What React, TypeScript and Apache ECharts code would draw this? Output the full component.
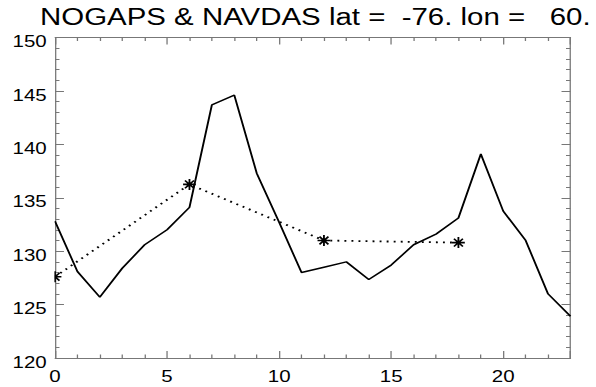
import React, { useEffect, useRef } from "react";
import * as echarts from "echarts";

const TITLE = "NOGAPS & NAVDAS lat =  -76. lon =   60.";
const hours = [0,1,2,3,4,5,6,7,8,9,10,11,12,13,14,15,16,17,18,19,20,21,22,23];
const nogaps = [132.8,128.1,125.7,128.4,130.6,132.0,134.1,143.7,144.6,137.3,132.7,128.0,128.5,129.0,127.35,128.7,130.6,131.6,133.1,139.1,133.75,131.0,126.0,123.9];
const navdasHours = [0, 6, 12, 18];
const navdas = [127.6, 136.25, 131.0, 130.8];

const ASTERISK = "path://M0,-6L0,6M-6,0L6,0M-4.2,-4.2L4.2,4.2M-4.2,4.2L4.2,-4.2";

// The reference is horizontally stretched: draw narrower, then scale in X.
const SX = 1.28;
const W = 596 / SX;
const H = 387;

export default function App() {
  const ref = useRef<HTMLDivElement>(null);
  useEffect(() => {
    document.body.style.margin = "0";
    const chart = echarts.init(ref.current!, null, { renderer: "svg" });
    const font = "Liberation Sans, Arial, Helvetica, sans-serif";
    const axisColor = "#777";
    const baseAxis = {
      type: "value" as const,
      axisLine: { show: true, onZero: false, lineStyle: { color: axisColor, width: 1 } },
      axisTick: { show: true, inside: true, length: 7, lineStyle: { color: axisColor } },
      minorTick: { show: true, splitNumber: 5, length: 3.5, lineStyle: { color: axisColor } },
      splitLine: { show: false },
    };
    const left = 55 / SX;
    const right = W - 570 / SX;
    chart.setOption({
      animation: false,
      backgroundColor: "#fff",
      title: {
        text: TITLE,
        left: 40 / SX,
        top: 6,
        padding: 0,
        textStyle: { fontFamily: font, fontWeight: "normal", fontSize: 23, color: "#000" },
      },
      grid: { left, right, top: 37.5, bottom: 29 },
      xAxis: [
        {
          ...baseAxis,
          position: "bottom",
          min: 0,
          max: 23,
          interval: 5,
          axisLabel: { fontFamily: font, fontSize: 16, color: "#000", margin: 10, showMaxLabel: false },
        },
        {
          ...baseAxis,
          position: "top",
          min: 0,
          max: 23,
          interval: 5,
          axisLabel: { show: false },
        },
      ],
      yAxis: [
        {
          ...baseAxis,
          position: "left",
          min: 120,
          max: 150,
          interval: 5,
          axisLabel: { fontFamily: font, fontSize: 16, color: "#000", margin: 6.5, verticalAlign: "top", padding: [-4, 0, 0, 0] },
        },
        {
          ...baseAxis,
          position: "right",
          min: 120,
          max: 150,
          interval: 5,
          axisLabel: { show: false },
        },
      ],
      series: [
        {
          type: "line",
          data: hours.map((h, i) => [h, nogaps[i]]),
          showSymbol: false,
          lineStyle: { color: "#000", width: 1.5 },
          z: 3,
        },
        {
          type: "line",
          data: navdasHours.map((h, i) => [h, navdas[i]]),
          symbol: ASTERISK,
          symbolSize: [10, 11],
          itemStyle: { color: "none", borderColor: "#000", borderWidth: 1.5 },
          lineStyle: { color: "#000", width: 1.8, type: [1.5, 4] },
          z: 4,
        },
      ],
      graphic: [
        {
          type: "rect",
          shape: { x: 37.5, y: 30, width: left - 37.5 - 0.5, height: 335 },
          style: { fill: "#fff" },
          z: 100,
        },
      ],
    });
    return () => chart.dispose();
  }, []);
  return (
    <div
      ref={ref}
      style={{
        width: W,
        height: H,
        position: "fixed",
        left: 0,
        top: 0,
        transform: `scaleX(${SX})`,
        transformOrigin: "0 0",
      }}
    />
  );
}
